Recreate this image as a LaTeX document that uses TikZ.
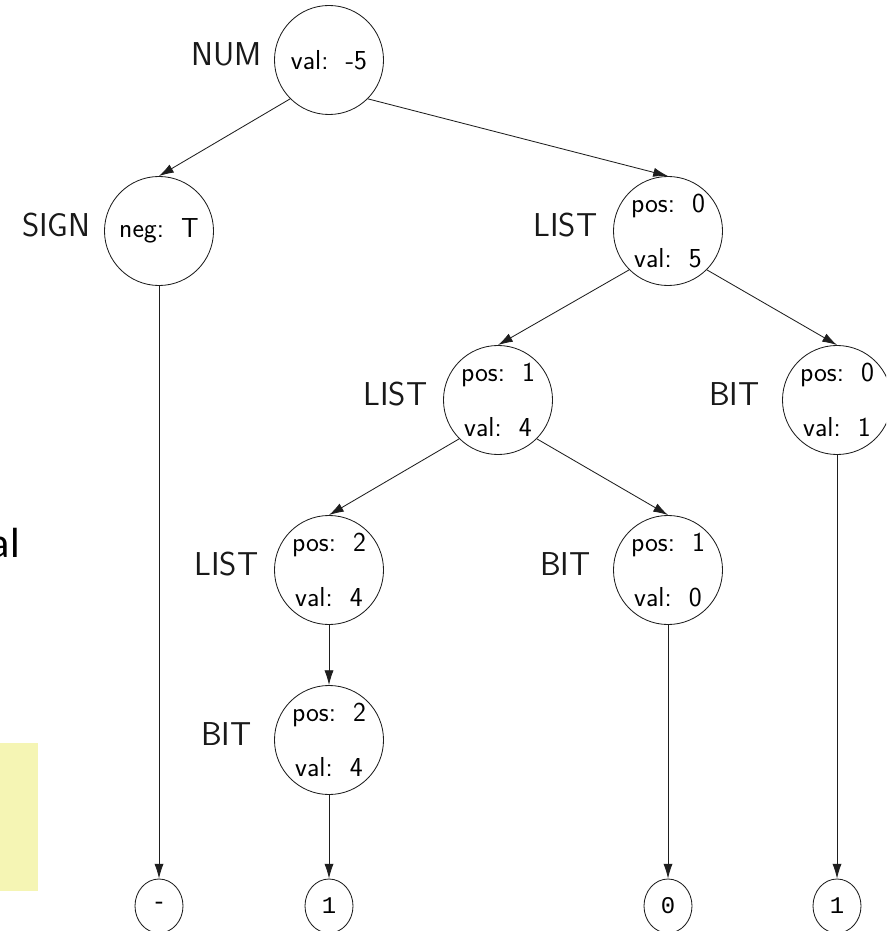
\documentclass[tikz,border=0pt]{standalone}
\usepackage{fontspec}
\usetikzlibrary{arrows.meta, shapes.geometric}
\newfontfamily\leaffont{Liberation Mono}
\newfontfamily\slidefont{Carlito}
\definecolor{edgegray}{RGB}{30,30,30}
\definecolor{noteyellow}{RGB}{245,245,180}

\begin{document}
\begin{tikzpicture}[x=0.025cm, y=-0.025cm, >={Latex[length=10.5pt,width=6.5pt]}]

    % Styles
    \tikzset{
        attr/.style={draw=edgegray, line width=0.6pt, circle, inner sep=0pt, minimum size=2.725cm, align=center, font=\fontsize{19.5}{39}\sffamily},
        sym/.style={label={[symname]center:#1}},
        symname/.style={xshift=-73pt, yshift=4pt, text=black!90, font=\fontsize{23.5}{28}\sffamily},
        leaf/.style={draw=edgegray, line width=0.6pt, ellipse, inner sep=0pt, minimum width=1.2cm, minimum height=1.35cm, font=\fontsize{17}{19}\leaffont},
        link/.style={->, line width=0.6pt, edgegray}
    }

    \useasboundingbox (0,0) rectangle (886,931);
    \clip (0,0) rectangle (886,931);

    % --- bits of the slide behind the tree ---
    \fill[noteyellow] (-2,743) rectangle (38,891);
    \node[font=\fontsize{30}{36}\slidefont, anchor=base east, inner sep=0pt] (frag) at (20,557) {al};

    % --- attribute nodes ---
    \node[attr, sym=NUM] (num) at (329,60) {val:\ \ -5};
    \node[attr, sym=SIGN] (sign) at (159,231) {neg:\ \ T};
    \node[attr, sym=LIST] (list0) at (668,231) {pos:\ \ 0\\val:\ \ 5};
    \node[attr, sym=LIST] (list1) at (498,400) {pos:\ \ 1\\val:\ \ 4};
    \node[attr, sym=BIT] (bit0) at (837,400) {pos:\ \ 0\\val:\ \ 1};
    \node[attr, sym=LIST] (list2) at (329,570) {pos:\ \ 2\\val:\ \ 4};
    \node[attr, sym=BIT] (bit1) at (668,570) {pos:\ \ 1\\val:\ \ 0};
    \node[attr, sym=BIT] (bit2) at (329,740) {pos:\ \ 2\\val:\ \ 4};

    % --- leaves ---
    \node[leaf] (minus) at (159,906) {-};
    \node[leaf] (one0) at (329,906) {1};
    \node[leaf] (zero) at (668,906) {0};
    \node[leaf] (one1) at (837,906) {1};

    % --- edges ---
    \draw[link] (num.225) -- (sign.north);
    \draw[link] (num.-45) -- (list0.north);
    \draw[link] (list0.225) -- (list1.north);
    \draw[link] (list0.-45) -- (bit0.north);
    \draw[link] (list1.225) -- (list2.north);
    \draw[link] (list1.-45) -- (bit1.north);
    \draw[link] (list2) -- (bit2);
    \draw[link] (sign) -- (minus);
    \draw[link] (bit2) -- (one0);
    \draw[link] (bit1) -- (zero);
    \draw[link] (bit0) -- (one1);

\end{tikzpicture}
\end{document}
